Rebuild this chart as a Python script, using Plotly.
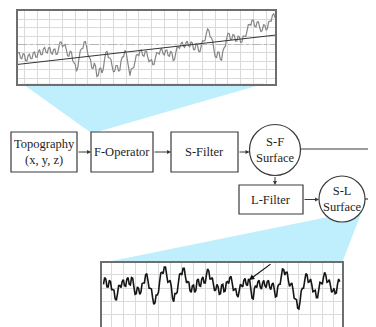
import numpy as np
import plotly.graph_objects as go

# ---------------- data ----------------
# top inset: primary profile (grid units), sampled every 0.1 grid unit from x = -0.5
top_x_start, top_x_step = -0.5, 0.1
top_profile = [
    -1.0, -0.95, -1.6, -1.7, -1.1, -1.15, -1.9, -1.95, -1.3, -1.15,
    -1.7, -1.7, -1.0, -0.9, -1.5, -1.5, -0.8, -0.65, -1.2, -1.2,
    -0.5, -0.35, -0.9, -1.0, -0.4, -0.35, -1.0, -1.15, -0.6, -0.55,
    -1.2, -1.15, -0.4, 0.3, 0.3, -0.25, -0.1, 0.0, -0.6, -1.35,
    -1.4, -0.8, -0.9, -1.9, -2.2, -2.35, -3.2, -2.75, -1.6, -0.7,
    -0.5, -0.45, 0.3, 0.35, -0.3, -1.25, -1.5, -1.8, -2.8, -2.85,
    -2.2, -2.65, -3.8, -3.7, -2.9, -2.8, -3.4, -2.95, -1.8, -0.95,
    -0.8, -1.55, -1.6, -1.75, -2.6, -3.25, -3.2, -2.5, -2.5, -3.15,
    -3.1, -1.95, -1.5, -1.45, -0.7, -0.95, -1.9, -3.15, -3.7, -2.9,
    -2.8, -2.75, -2.0, -1.25, -1.2, -1.3, -0.7, -0.65, -1.3, -1.4,
    -0.8, -0.8, -1.5, -2.05, -1.9, -1.8, -2.4, -2.35, -1.6, -0.95,
    -1.0, -1.15, -0.6, -0.5, -1.1, -1.25, -0.7, -0.65, -1.3, -1.4,
    -0.8, -1.0, -1.9, -1.8, -1.0, -0.3, -0.3, -0.45, 0.1, 0.3,
    -0.2, -0.35, 0.2, 0.4, -0.1, -0.25, 0.3, 0.2, -0.6, -0.6,
    0.1, 0.0, -0.8, -0.85, -0.2, 0.45, 0.4, 0.5, 1.3, 1.85,
    1.7, 0.9, 0.8, 0.45, -0.6, -1.45, -1.6, -0.9, -0.9, -1.75,
    -1.9, -0.8, -0.4, -0.2, 0.7, 1.35, 1.3, 0.6, 0.6, 1.2,
    1.1, 0.4, 0.4, 1.0, 0.9, 0.25, 0.3, 1.0, 1.0, 0.95,
    1.6, 2.35, 2.4, 2.3, 2.9, 2.9, 2.2, 2.1, 2.7, 2.7,
    2.0, 1.5, 1.7, 2.35, 2.3, 1.75, 1.9, 2.7, 2.8, 2.8,
    3.5, 3.7, 3.2,
]
top_trend_x = [-0.5, 19.7]
top_trend_y = [-2.37, 1.12]

# bottom inset: S-L surface profile (grid units), sampled every 0.1 grid unit from x = -0.7
bot_x_start, bot_x_step = -0.7, 0.1
bot_profile = [
    1.3, 1.8, 1.7, 1.1, 1.1, 1.6, 1.5, 0.9, 0.9, 0.85,
    0.2, 0.1, 0.6, 1.2, 1.2, 1.05, 1.5, 1.65, 1.2, 1.15,
    1.7, 1.8, 1.3, 1.25, 1.8, 1.75, 1.1, 0.55, 0.6, 1.1,
    1.0, 0.55, 0.7, 1.35, 1.4, 1.4, 2.0, 2.1, 1.6, 1.0,
    1.0, 0.95, 0.3, -0.2, -0.1, 0.5, 0.5, 0.7, 1.5, 2.15,
    2.2, 2.1, 2.6, 2.6, 2.0, 1.45, 1.5, 1.6, 1.1, 0.25,
    0.0, 0.6, 0.6, 0.7, 1.4, 2.05, 2.1, 2.0, 2.5, 2.5,
    1.9, 1.4, 1.5, 1.45, 0.8, 0.7, 1.2, 1.25, 0.7, 0.85,
    1.6, 1.7, 1.2, 1.15, 1.7, 1.85, 1.4, 1.4, 2.0, 2.45,
    2.3, 1.7, 1.7, 1.8, 1.3, 0.8, 0.9, 1.3, 1.1, 0.55,
    0.6, 1.25, 1.3, 0.75, 0.8, 1.45, 1.5, 1.35, 1.8, 1.9,
    1.4, 0.85, 0.9, 1.0, 0.5, 0.35, 0.8, 1.3, 1.2, 1.1,
    1.6, 1.75, 1.3, 1.2, 1.7, 1.6, 0.9, 0.25, 0.2, 1.0,
    1.2, 1.05, 1.5, 1.6, 1.1, 0.95, 1.4, 1.6, 1.2, 1.05,
    1.5, 1.6, 1.1, 0.9, 1.3, 1.4, 0.9, 0.35, 0.4, 1.15,
    1.3, 1.3, 1.9, 2.45, 2.4, 2.0, 2.2, 2.2, 1.6, 1.15,
    1.3, 1.4, 0.9, 0.25, 0.2, 0.15, -0.5, -0.55, 0.0, 0.8,
    1.0, 1.0, 1.6, 2.1, 2.0, 1.45, 1.5, 1.7, 1.3, 0.75,
    0.8, 0.85, 0.3, 0.3, 0.9, 1.45, 1.4, 1.3, 1.8, 2.2,
    2.0, 1.45, 1.5, 1.65, 1.2, 0.7, 0.8, 1.0, 0.6, 0.65,
    1.3, 1.7, 1.5,
]

# flow chart labels
box_labels = ["Topography<br>(x, y, z)", "F-Operator", "S-Filter", "L-Filter"]
circle_labels = ["S-F<br>Surface", "S-L<br>Surface"]

# ---------------- geometry (page pixels) ----------------
PAGE_W, PAGE_H = 376, 327
OFF = 8                      # default body margin of the html page
W, H = PAGE_W - OFF, PAGE_H - OFF


def dx(px):
    return (px - OFF) / W


def dy(py):
    return 1 - (py - OFF) / H


boxes = [(11, 132, 77, 172), (91, 132, 153, 172), (171, 132, 238, 172), (239, 185, 303, 214)]
circles = [(275, 150, 25.5), (342, 199, 23)]
arrows = [((77, 152), (91, 152)), ((153, 152), (171, 152)),
          ((238, 152), (249.5, 152)), ((275, 175.5), (275, 185)),
          ((303, 199.5), (319, 199.5))]
plain_lines = [((300.5, 149), (376, 149)), ((365, 199), (376, 199))]

FUNNEL = "#bfeefc"
EDGE = "#3a3a3a"
FONT = "Liberation Serif, Times New Roman, DejaVu Serif, serif"

fig = go.Figure()

top_x = top_x_start + top_x_step * np.arange(len(top_profile))
bot_x = bot_x_start + bot_x_step * np.arange(len(bot_profile))

fig.add_trace(go.Scatter(x=top_x, y=top_profile, mode="lines",
                         line=dict(color="#858585", width=1.2),
                         xaxis="x2", yaxis="y2", hoverinfo="skip"))
fig.add_trace(go.Scatter(x=[top_trend_x[0], top_trend_x[1]], y=[0, 0], mode="lines",
                         line=dict(color="#b5b5b5", width=1, dash="dashdot"),
                         xaxis="x2", yaxis="y2", hoverinfo="skip"))
fig.add_trace(go.Scatter(x=top_trend_x, y=top_trend_y, mode="lines",
                         line=dict(color="#333333", width=1),
                         xaxis="x2", yaxis="y2", hoverinfo="skip"))
fig.add_trace(go.Scatter(x=bot_x, y=bot_profile, mode="lines",
                         line=dict(color="#151515", width=1.6),
                         xaxis="x3", yaxis="y3", hoverinfo="skip"))

shapes = []
# funnels
shapes.append(dict(type="path", xref="x", yref="y", layer="below",
                   path="M 22,83.5 L 265,83.5 Q 190,105 97,132 L 90,132 Z",
                   fillcolor=FUNNEL, line=dict(width=0)))
shapes.append(dict(type="path", xref="x", yref="y", layer="below",
                   path="M 102,263 L 328,217 L 362,211 L 342,263 Z",
                   fillcolor=FUNNEL, line=dict(width=0)))
for (x0, y0, x1, y1) in boxes:
    shapes.append(dict(type="rect", xref="x", yref="y", x0=x0, y0=y0, x1=x1, y1=y1,
                       line=dict(color=EDGE, width=1.2), fillcolor="white"))
for (cx, cy, r) in circles:
    shapes.append(dict(type="circle", xref="x", yref="y", x0=cx - r, y0=cy - r,
                       x1=cx + r, y1=cy + r, line=dict(color=EDGE, width=1.2),
                       fillcolor="white"))
for (p0, p1) in plain_lines:
    shapes.append(dict(type="line", xref="x", yref="y", x0=p0[0], y0=p0[1],
                       x1=p1[0], y1=p1[1], line=dict(color=EDGE, width=1.2)))

annotations = []
for (p0, p1) in arrows:
    annotations.append(dict(x=p1[0], y=p1[1], ax=p0[0], ay=p0[1], xref="x", yref="y",
                            axref="x", ayref="y", showarrow=True, arrowhead=2,
                            arrowsize=0.8, arrowwidth=1, arrowcolor=EDGE, text="",
                            standoff=0, startstandoff=0))
# arrow inside bottom inset
annotations.append(dict(x=249, y=280, ax=272, ay=263, xref="x", yref="y",
                        axref="x", ayref="y", showarrow=True, arrowhead=2,
                        arrowsize=0.9, arrowwidth=1.2, arrowcolor="#111", text=""))

centers = [((b[0] + b[2]) / 2, (b[1] + b[3]) / 2) for b in boxes] + \
          [(c[0], c[1]) for c in circles]
for label, (cx, cy) in zip(box_labels + circle_labels, centers):
    annotations.append(dict(x=cx, y=cy, xref="x", yref="y", text=label,
                            showarrow=False, font=dict(family=FONT, size=12.5, color="#1e1e1e")))

grid = "#dadada"
fig.update_layout(
    width=W, height=H, margin=dict(l=0, r=0, t=0, b=0),
    paper_bgcolor="white", plot_bgcolor="rgba(0,0,0,0)", showlegend=False,
    font=dict(family=FONT),
    shapes=shapes, annotations=annotations,
    xaxis=dict(domain=[0, 1], range=[OFF, PAGE_W], visible=False, fixedrange=True),
    yaxis=dict(domain=[0, 1], range=[PAGE_H, OFF], visible=False, fixedrange=True),
    xaxis2=dict(domain=[dx(18), dx(275)], range=[-0.5, 19.7], anchor="y2",
                tick0=0, dtick=1, showticklabels=False, ticks="", showgrid=True,
                gridcolor=grid, zeroline=False, showline=True, mirror=True,
                linecolor="#6e6e6e", linewidth=1.5),
    yaxis2=dict(domain=[dy(83.5), dy(11)], range=[-4.65, 4.0], anchor="x2",
                tick0=0, dtick=1, showticklabels=False, ticks="", showgrid=True,
                gridcolor=grid, zeroline=False, showline=True, mirror=True,
                linecolor="#6e6e6e", linewidth=1.5),
    xaxis3=dict(domain=[dx(102.3), dx(341.7)], range=[-0.8, 19.66], anchor="y3",
                side="top", tick0=0, dtick=1, showticklabels=False, ticks="",
                showgrid=True, gridcolor=grid, zeroline=False, showline=True,
                mirror=False, linecolor="#6e6e6e", linewidth=1.5),
    yaxis3=dict(domain=[0, dy(262.7)], range=[-1.9, 2.92], anchor="x3",
                tick0=0, dtick=1, showticklabels=False, ticks="", showgrid=True,
                gridcolor=grid, zeroline=False, showline=True, mirror=True,
                linecolor="#6e6e6e", linewidth=1.5),
)

fig.write_html("out.html")
